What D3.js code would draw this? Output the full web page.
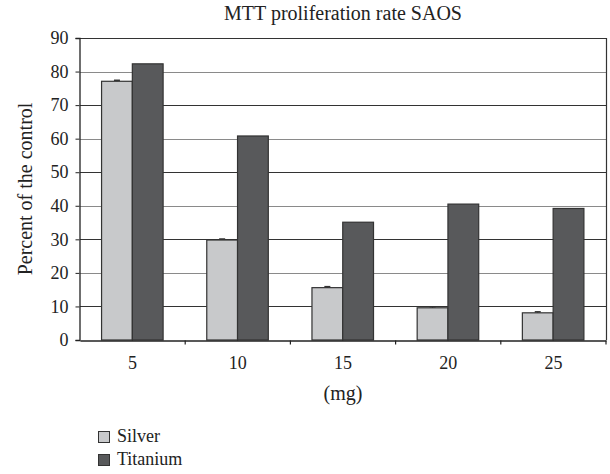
<!DOCTYPE html>
<html>
<head>
<meta charset="utf-8">
<script src="https://cdn.jsdelivr.net/npm/d3@7"></script>
<style>
  html, body { margin: 0; padding: 0; background: #fff; }
  svg { display: block; }
  text { font-family: "Liberation Serif", "Times New Roman", serif; fill: #222; }
</style>
</head>
<body>
<svg id="chart" width="610" height="474"></svg>
<script>
// Dose groups (mg) and MTT results, percent of the untreated control
const doses = ["5", "10", "15", "20", "25"];
const seriesNames = ["Silver", "Titanium"];
const silverValues = [77.1, 29.8, 15.6, 9.6, 8.1];
const titaniumValues = [82.3, 60.8, 35.1, 40.5, 39.2];
const silverErrors = [0.3, 0.3, 0.3, 0.3, 0.3];
const titaniumErrors = [0, 0, 0, 0, 0];
const yTicks = [0, 10, 20, 30, 40, 50, 60, 70, 80, 90];

const colors = { Silver: "#c8c9cb", Titanium: "#58595b" };

const svg = d3.select("#chart");
const margin = { left: 80, right: 4, top: 38, bottom: 134 };
const W = 610, H = 474;
const x0 = margin.left, x1 = W - margin.right;
const y0 = H - margin.bottom, y1 = margin.top;

const x = d3.scaleBand().domain(doses).range([x0, x1]).padding(0);
const xs = d3.scaleBand().domain(seriesNames)
  .range([x.bandwidth() * 0.205, x.bandwidth() * 0.79]).padding(0);
const y = d3.scaleLinear().domain([0, 90]).range([y0, y1]);

const rows = doses.map((d, i) => ({
  dose: d,
  values: [
    { name: "Silver", v: silverValues[i], err: silverErrors[i] },
    { name: "Titanium", v: titaniumValues[i], err: titaniumErrors[i] }
  ]
}));

// Gridlines (alternating tone)
svg.append("g").selectAll("line")
  .data(yTicks.filter(t => t > 0))
  .join("line")
  .attr("x1", x0).attr("x2", x1)
  .attr("y1", d => Math.round(y(d)) + 0.5).attr("y2", d => Math.round(y(d)) + 0.5)
  .attr("stroke", d => (d / 10) % 2 === 0 ? "#8a8a8a" : "#333")
  .attr("stroke-width", 1.2);

// Right frame edge
svg.append("line")
  .attr("x1", x1 + 0.5).attr("x2", x1 + 0.5)
  .attr("y1", y1).attr("y2", y0)
  .attr("stroke", "#333").attr("stroke-width", 1.2);

// Bars
const groups = svg.append("g").selectAll("g")
  .data(rows).join("g")
  .attr("transform", d => `translate(${x(d.dose)},0)`);

groups.selectAll("rect")
  .data(d => d.values).join("rect")
  .attr("x", d => xs(d.name))
  .attr("width", xs.bandwidth())
  .attr("y", d => y(d.v))
  .attr("height", d => y(0) - y(d.v))
  .attr("fill", d => colors[d.name])
  .attr("stroke", "#333")
  .attr("stroke-width", 1.2);

// Small error caps
groups.selectAll("g.err")
  .data(d => d.values.filter(v => v.err > 0)).join("g")
  .attr("class", "err")
  .each(function (d) {
    const g = d3.select(this);
    const cx = xs(d.name) + xs.bandwidth() / 2;
    g.append("line").attr("x1", cx).attr("x2", cx)
      .attr("y1", y(d.v + d.err)).attr("y2", y(d.v))
      .attr("stroke", "#333").attr("stroke-width", 1);
    g.append("line").attr("x1", cx - 3).attr("x2", cx + 3)
      .attr("y1", y(d.v + d.err)).attr("y2", y(d.v + d.err))
      .attr("stroke", "#333").attr("stroke-width", 1.5);
  });

// Y axis
const yAxis = svg.append("g")
  .attr("transform", `translate(${x0 - 0.5},0)`)
  .call(d3.axisLeft(y).tickValues(yTicks).tickSize(4).tickPadding(7));
yAxis.select(".domain").attr("stroke", "#222").attr("stroke-width", 1.3);
yAxis.selectAll(".tick line").attr("stroke", "#222");
yAxis.selectAll(".tick text")
  .style("font-family", '"Liberation Serif", serif')
  .style("font-size", "18px").attr("fill", "#222");

// X axis with ticks on group boundaries
const xAxis = svg.append("g")
  .attr("transform", `translate(0,${y0 + 0.5})`)
  .call(d3.axisBottom(x).tickSize(0).tickPadding(16));
xAxis.select(".domain").attr("stroke", "#222").attr("stroke-width", 1.3);
xAxis.selectAll(".tick text")
  .style("font-family", '"Liberation Serif", serif')
  .style("font-size", "18px").attr("fill", "#222");
xAxis.selectAll("line.sep")
  .data(doses.slice(1).concat(["end"]))
  .join("line").attr("class", "sep")
  .attr("x1", d => d === "end" ? x1 : x(d)).attr("x2", d => d === "end" ? x1 : x(d))
  .attr("y1", 0).attr("y2", 4)
  .attr("stroke", "#222").attr("stroke-width", 1.2);

// Titles
svg.append("text")
  .attr("x", (x0 + x1) / 2).attr("y", 20)
  .attr("text-anchor", "middle")
  .style("font-size", "20px")
  .text("MTT proliferation rate SAOS");

svg.append("text")
  .attr("x", (x0 + x1) / 2).attr("y", 400)
  .attr("text-anchor", "middle")
  .style("font-size", "20px")
  .text("(mg)");

svg.append("text")
  .attr("transform", `translate(32,${(y0 + y1) / 2}) rotate(-90)`)
  .attr("text-anchor", "middle")
  .style("font-size", "20px")
  .text("Percent of the control");

// Legend
const legend = svg.append("g").attr("transform", "translate(98,431)");
const li = legend.selectAll("g").data(seriesNames).join("g")
  .attr("transform", (d, i) => `translate(0,${i * 23})`);
li.append("rect")
  .attr("x", 0.5).attr("y", 0.5).attr("width", 11).attr("height", 11)
  .attr("fill", d => colors[d]).attr("stroke", "#333").attr("stroke-width", 1);
li.append("text")
  .attr("x", 19).attr("y", 11)
  .style("font-size", "18px")
  .text(d => d);
</script>
</body>
</html>
